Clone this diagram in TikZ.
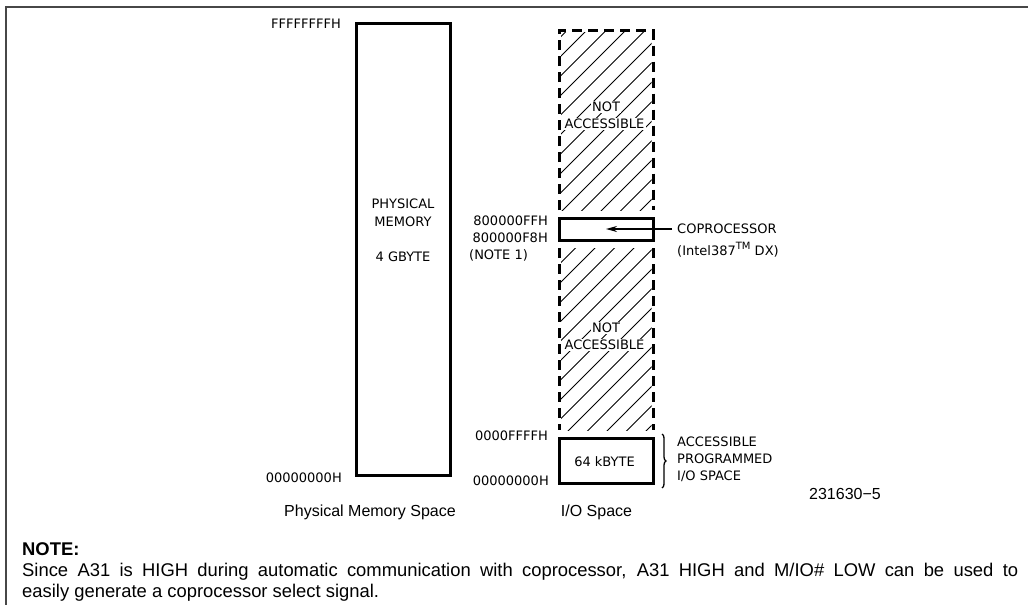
\documentclass[tikz,border=0pt]{standalone}
\usepackage{fontspec}
\setmainfont{Liberation Sans}
\newfontfamily\lblfont{DejaVu Sans}
\usetikzlibrary{arrows.meta,decorations.pathreplacing}
\begin{document}
\begin{tikzpicture}[x=1pt,y=-1pt,
  lbl/.style={font=\lblfont\fontsize{13}{15}\selectfont, inner sep=0pt},
  captext/.style={font=\fontsize{16}{19}\selectfont, inner sep=0pt},
  notetext/.style={font=\fontsize{18.4}{21}\selectfont, inner sep=0pt, anchor=base west},
  thickbox/.style={line width=3pt},
  dashbox/.style={line width=3pt, dash pattern=on 10pt off 6pt},
  hatchline/.style={line width=0.8pt},
  frameline/.style={line width=1.6pt, draw=black!72}]
\useasboundingbox (0,0) rectangle (1028,605);
% frame
\draw[frameline] (5,7) -- (1028,7);
\draw[frameline] (6,7) -- (6,605);

% physical memory box
\draw[thickbox] (356.5,23.5) rectangle (450.5,475);
\node[lbl] (phys) at (403,204) {PHYSICAL};
\node[lbl] (mem) at (403,221.5) {MEMORY};
\node[lbl] (gb) at (403,257) {4 GBYTE};
\node[lbl, anchor=east] (ftop) at (341,23.5) {FFFFFFFFH};
\node[lbl, anchor=east] (fbot) at (342,478) {00000000H};
\node[captext] (pms) at (370,512.5) {Physical Memory Space};

% hatching
\begin{scope}
  \clip (561,32) rectangle (651.5,210);
  \foreach \k in {-12,...,6} \draw[hatchline] (561+\k*19.5,212) -- ++(200,-200);
\end{scope}
\begin{scope}
  \clip (561,248) rectangle (651.5,430);
  \foreach \k in {-12,...,6} \draw[hatchline] (567+\k*19.5,432) -- ++(200,-200);
\end{scope}

% I/O dashed column
\draw[dashbox] (559.5,210) -- (559.5,30.5) -- (653,30.5) -- (653,210);
\draw[dashbox] (559.5,248) -- (559.5,430);
\draw[dashbox] (653,248) -- (653,430);

\node[lbl, fill=white, inner sep=1.5pt] (nota) at (606,107) {NOT};
\node[lbl, fill=white, inner sep=1.5pt] (acca) at (604.5,124) {ACCESSIBLE};
\node[lbl, fill=white, inner sep=1.5pt] (notb) at (606,328) {NOT};
\node[lbl, fill=white, inner sep=1.5pt] (accb) at (604.5,345) {ACCESSIBLE};

% coprocessor box
\draw[thickbox, fill=white] (559.5,218.5) rectangle (653,240.5);
\node[lbl, anchor=east] (aff) at (548,220.5) {800000FFH};
\node[lbl, anchor=east] (af8) at (548,238) {800000F8H};
\node[lbl, anchor=west] (n1) at (469,255.5) {(NOTE 1)};
\node[lbl, anchor=west] (copro) at (677,229) {COPROCESSOR};
\node[lbl, anchor=west] (intel) at (677,250) {(Intel387\raisebox{0.9ex}{\fontsize{10}{12}\selectfont TM} DX)};
\coordinate (arrstart) at (672,229);
\coordinate (arrtip) at (606,229);
\draw[line width=1.5pt, -{Stealth[length=11pt,width=6pt]}] (arrstart) -- (arrtip);

% 64 kbyte box
\draw[thickbox] (559.5,438.5) rectangle (653,483.5);
\node[lbl] (kb) at (604.5,462) {64 kBYTE};
\node[lbl, anchor=east] (iof) at (548,435.5) {0000FFFFH};
\node[lbl, anchor=east] (io0) at (549,481) {00000000H};
\coordinate (bra) at (662,488);
\coordinate (brb) at (662,434);
\draw[line width=1.3pt, decorate, decoration={brace, amplitude=4pt}] (brb) -- (bra);
\node[lbl, anchor=west] (acc1) at (677,442) {ACCESSIBLE};
\node[lbl, anchor=west] (acc2) at (677,459) {PROGRAMMED};
\node[lbl, anchor=west] (acc3) at (677,476) {I/O SPACE};
\node[captext] (ios) at (596.5,512.5) {I/O Space};
\node[captext] (fig) at (845,494) {231630\textminus5};

% note
\node[notetext, font=\bfseries\fontsize{18.4}{21}\selectfont] (notehd) at (22,555) {NOTE:};
\node[notetext] (note1) at (22,576) {\makebox[996pt][s]{Since A31 is HIGH during automatic communication with coprocessor, A31 HIGH and M/IO\# LOW can be used to}};
\node[notetext] (note2) at (22,597) {easily generate a coprocessor select signal.};
\end{tikzpicture}
\end{document}
